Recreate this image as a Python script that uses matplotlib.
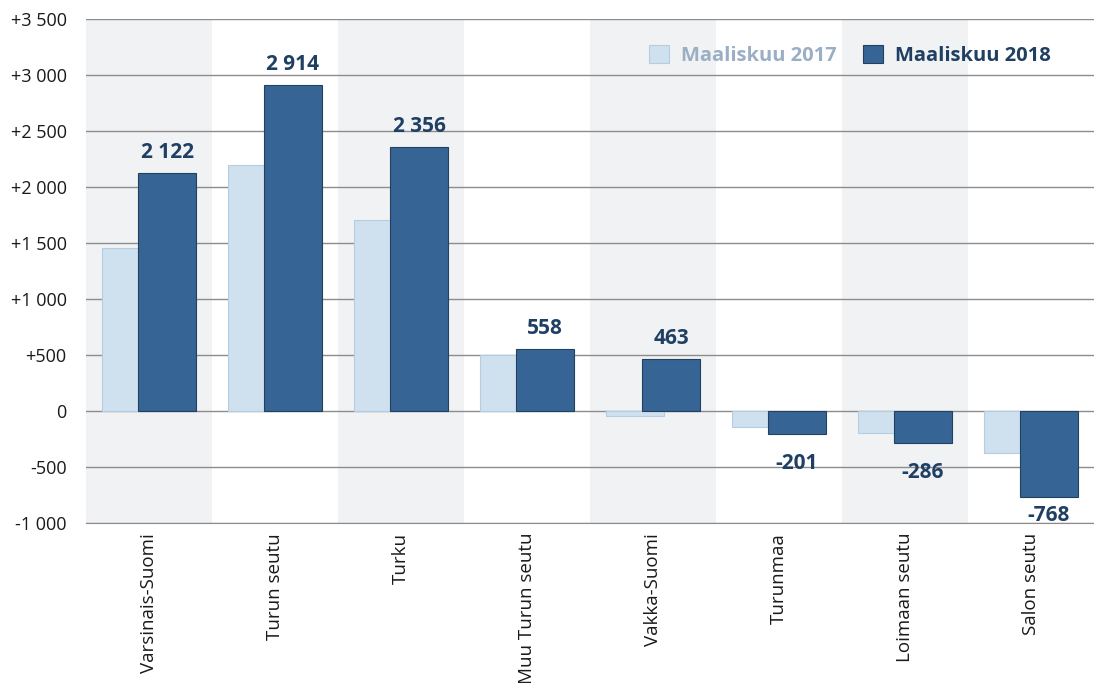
import matplotlib.pyplot as plt
import matplotlib.ticker as mticker
import numpy as np

categories = ['Varsinais-Suomi', 'Turun seutu', 'Turku', 'Muu Turun seutu',
              'Vakka-Suomi', 'Turunmaa', 'Loimaan seutu', 'Salon seutu']
values_2017 = [1460, 2200, 1705, 500, -40, -143, -196, -375]
values_2018 = [2122, 2914, 2356, 558, 463, -201, -286, -768]
yticks = [-1000, -500, 0, 500, 1000, 1500, 2000, 2500, 3000, 3500]

light = '#cfe0ee'
dark = '#366595'
label_col = '#1f3f63'
font = ['Open Sans', 'DejaVu Sans']

fig = plt.figure(figsize=(10.94, 6.83), dpi=100)
ax = fig.add_axes([0.0786, 0.234, 0.9214, 0.738])

x = np.arange(len(categories))
w = 0.46
off = 0.143

# alternating shaded bands
for i in x:
    if i % 2 == 0:
        ax.axvspan(i - 0.5, i + 0.5, color='#f1f2f4', lw=0, zorder=0)

for y in yticks:
    ax.axhline(y, color='#8c8c8c', lw=1, zorder=1)

ax.bar(x - off, values_2017, w, color=light, edgecolor='#b4cde3', lw=0.8,
       zorder=2, label='Maaliskuu 2017')
ax.bar(x + off, values_2018, w, color=dark, edgecolor='#23405f', lw=0.8,
       zorder=3, label='Maaliskuu 2018')

for xi, v in zip(x, values_2018):
    txt = f'{v:,}'.replace(',', ' ')
    if v >= 0:
        ax.text(xi + off, v + 90, txt, ha='center', va='bottom', fontsize=15,
                fontweight='bold', color=label_col, family=font, zorder=4)
    else:
        ax.text(xi + off, max(v - 170, -840), txt, ha='center', va='top', fontsize=15,
                fontweight='bold', color=label_col, family=font, zorder=4)

ax.set_xlim(-0.5, len(categories) - 0.5)
ax.set_ylim(-1000, 3500)
ax.set_yticks(yticks)


def fmt(v, pos):
    s = f'{int(abs(v)):,}'.replace(',', ' ')
    if v > 0:
        return '+' + s
    if v < 0:
        return '-' + s
    return '0'


ax.yaxis.set_major_formatter(mticker.FuncFormatter(fmt))
ax.set_xticks(x)
ax.set_xticklabels(categories, rotation=90, fontsize=13.5, family=font, color='#1a1a1a')
for lab in ax.get_yticklabels():
    lab.set_family(font)
    lab.set_fontsize(13)
    lab.set_color('#1a1a1a')
ax.tick_params(axis='y', length=0, pad=14)
ax.tick_params(axis='x', length=0, pad=7)
for s in ['top', 'right', 'left']:
    ax.spines[s].set_visible(False)
ax.spines['bottom'].set_color('#8c8c8c')

leg = ax.legend(loc='upper right', ncol=2, frameon=False,
                bbox_to_anchor=(0.975, 0.985), handlelength=1.0, handleheight=1.0,
                columnspacing=1.3, handletextpad=0.6,
                prop={'family': font, 'weight': 'bold', 'size': 14.5})
leg.get_texts()[0].set_color('#9aafc5')
leg.get_texts()[1].set_color(label_col)

fig.savefig('out.png', dpi=100)
